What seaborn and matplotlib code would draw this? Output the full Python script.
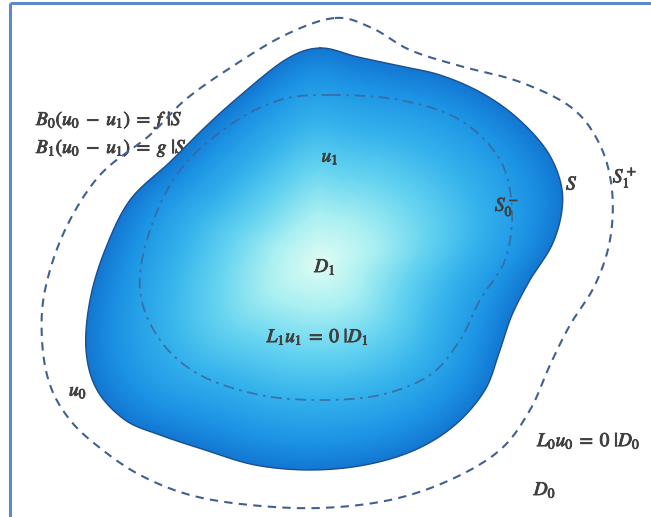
import numpy as np
import pandas as pd
import matplotlib
matplotlib.use("Agg")
import matplotlib.pyplot as plt
import matplotlib.patheffects as pe
from matplotlib.colors import LinearSegmentedColormap
from matplotlib.patches import Polygon
import seaborn as sns

# Outline of the domain D1 (boundary S), control points in pixel space
s_x = [320, 358, 400, 440, 480, 515, 545, 560, 562, 552, 530, 512, 500, 485,
       455, 415, 365, 310, 255, 205, 160, 125, 97, 86, 90, 105, 130, 170,
       200, 235, 285]
s_y = [48, 57, 66, 75, 92, 116, 148, 180, 210, 245, 280, 315, 350, 390,
       425, 450, 465, 470, 465, 450, 435, 420, 390, 350, 300, 250, 200, 162,
       132, 100, 60]

# Inner surface S0-
s0_x = [330, 400, 460, 500, 512, 505, 480, 460, 430, 380, 320, 260, 200,
        160, 140, 150, 180, 230, 280]
s0_y = [95, 100, 120, 160, 210, 260, 300, 340, 375, 395, 400, 395, 375,
        340, 290, 230, 170, 125, 100]

# Outer surface S1+
s1_x = [335, 372, 410, 460, 520, 572, 600, 612, 610, 595, 570, 550, 530,
        500, 450, 390, 320, 250, 190, 140, 100, 70, 50, 42, 45, 65, 100,
        150, 185, 230, 285]
s1_y = [18, 28, 50, 66, 82, 108, 145, 190, 240, 285, 325, 365, 410, 450,
        480, 500, 508, 505, 495, 475, 448, 420, 385, 340, 290, 230, 175,
        135, 100, 68, 35]

# (text, x, y, alignment, drawn beneath the domain)
labels = [
    (r"$B_0(u_0\;-\;u_1)\;=\;f\ |S$", 36, 120, "left", True),
    (r"$B_1(u_0\;-\;u_1)\;=\;g\ |S$", 36, 148, "left", True),
    (r"$u_1$", 330, 157, "center", False),
    (r"$S_0^-$", 507, 207, "center", False),
    (r"$S$", 572, 184, "center", False),
    (r"$S_1^+$", 625, 177, "center", False),
    (r"$D_1$", 325, 267, "center", False),
    (r"$L_1u_1\;=\;0\ |D_1$", 318, 337, "center", False),
    (r"$u_0$", 78, 391, "center", False),
    (r"$L_0u_0\;=\;0\ |D_0$", 589, 441, "center", False),
    (r"$D_0$", 545, 490, "center", False),
]


def smooth_closed(xs, ys, n=24):
    """Closed Catmull-Rom curve through the control points."""
    p = np.column_stack([xs, ys]).astype(float)
    m = len(p)
    t = np.linspace(0, 1, n, endpoint=False)[:, None]
    segs = []
    for i in range(m):
        p0, p1, p2, p3 = p[i - 1], p[i], p[(i + 1) % m], p[(i + 2) % m]
        segs.append(0.5 * (2 * p1 + (-p0 + p2) * t
                           + (2 * p0 - 5 * p1 + 4 * p2 - p3) * t ** 2
                           + (-p0 + 3 * p1 - 3 * p2 + p3) * t ** 3))
    out = np.vstack(segs)
    return np.vstack([out, out[:1]])


sns.set_style("white")
plt.rcParams["mathtext.fontset"] = "stix"

W, H = 651, 517
fig = plt.figure(figsize=(W / 100, H / 100), dpi=100)
ax = fig.add_axes([0, 0, 1, 1])
ax.set_xlim(0, W)
ax.set_ylim(H, 0)
ax.axis("off")

text_color = "#3f3f3f"
for txt, x, y, ha, under in labels:
    ax.text(x, y, txt, ha=ha, va="center", fontsize=14, color=text_color,
            zorder=1 if under else 6,
            path_effects=[pe.withStroke(linewidth=0.6, foreground=text_color)])

# Radial shading of D1
blob = smooth_closed(s_x, s_y)
cx, cy = 320, 262
ang = np.arctan2(blob[:, 1] - cy, blob[:, 0] - cx)
rad = np.hypot(blob[:, 0] - cx, blob[:, 1] - cy)
order = np.argsort(ang)
gx, gy = np.meshgrid(np.arange(W) + 0.5, np.arange(H) + 0.5)
ga = np.arctan2(gy - cy, gx - cx)
gr = np.hypot(gx - cx, gy - cy)
R = np.interp(ga, ang[order], rad[order], period=2 * np.pi)
tval = np.clip(gr / R, 0, 1)

cmap = LinearSegmentedColormap.from_list(
    "domain",
    [(0.0, "#e0fdf4"), (0.22, "#aaf0f2"), (0.45, "#62d2f0"),
     (0.66, "#34b2ec"), (0.87, "#1c93e4"), (1.0, "#1377d2")])
img = ax.imshow(tval, cmap=cmap, vmin=0, vmax=1, extent=(0, W, H, 0),
                interpolation="bilinear", zorder=2)
clip = Polygon(blob, closed=True, transform=ax.transData)
img.set_clip_path(clip)
ax.set_xlim(0, W)
ax.set_ylim(H, 0)

outline = pd.DataFrame(blob, columns=["x", "y"])
sns.lineplot(data=outline, x="x", y="y", sort=False, estimator=None,
             color="#1b4f8e", linewidth=1.0, ax=ax, zorder=3)

inner = pd.DataFrame(smooth_closed(s0_x, s0_y), columns=["x", "y"])
sns.lineplot(data=inner, x="x", y="y", sort=False, estimator=None,
             color="#3d6399", linewidth=1.3, alpha=0.8,
             linestyle=(0, (6, 3, 1.5, 3)), ax=ax, zorder=4)

outer = pd.DataFrame(smooth_closed(s1_x, s1_y), columns=["x", "y"])
sns.lineplot(data=outer, x="x", y="y", sort=False, estimator=None,
             color="#41608f", linewidth=1.5, linestyle=(0, (4, 3)),
             ax=ax, zorder=4)

# Frame along the top and left edges
ax.plot([9.5, 9.5], [H, 2.5], color="#5b8ac6", linewidth=2.2, zorder=5,
        solid_capstyle="butt")
ax.plot([9.5, W], [2.5, 2.5], color="#5b8ac6", linewidth=2.2, zorder=5,
        solid_capstyle="butt")
ax.set_xlabel("")
ax.set_ylabel("")

fig.savefig("out.png", dpi=100)
